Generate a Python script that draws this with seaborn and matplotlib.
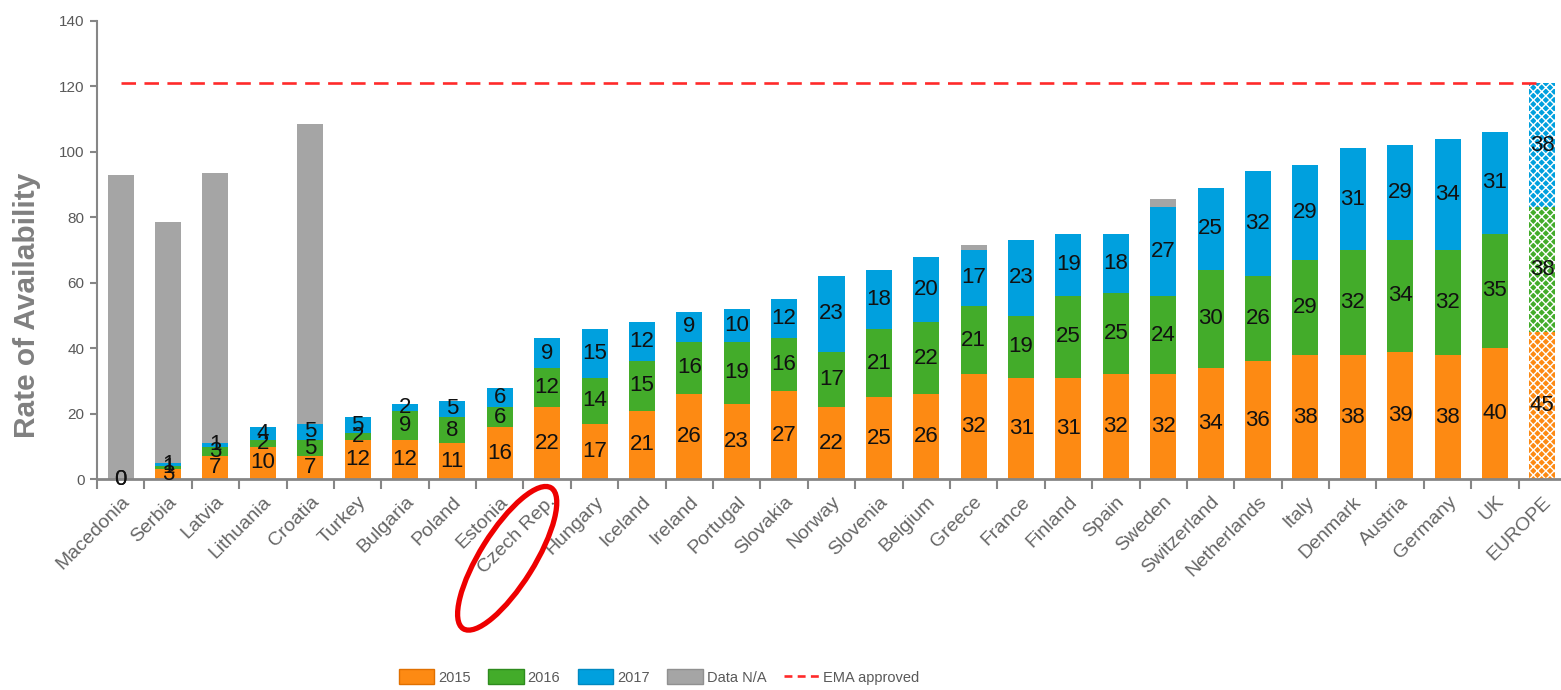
import numpy as np
import pandas as pd
import matplotlib
matplotlib.use("Agg")
import matplotlib.pyplot as plt
import seaborn as sns
from matplotlib.patches import Patch, Ellipse
from matplotlib.lines import Line2D
from matplotlib.transforms import IdentityTransform

# ---------------- data ----------------
countries = ["Macedonia", "Serbia", "Latvia", "Lithuania", "Croatia", "Turkey",
             "Bulgaria", "Poland", "Estonia", "Czech Rep.", "Hungary", "Iceland",
             "Ireland", "Portugal", "Slovakia", "Norway", "Slovenia", "Belgium",
             "Greece", "France", "Finland", "Spain", "Sweden", "Switzerland",
             "Netherlands", "Italy", "Denmark", "Austria", "Germany", "UK", "EUROPE"]
y2015 = [0, 3, 7, 10, 7, 12, 12, 11, 16, 22, 17, 21, 26, 23, 27, 22, 25, 26,
         32, 31, 31, 32, 32, 34, 36, 38, 38, 39, 38, 40, 45]
y2016 = [0, 1, 3, 2, 5, 2, 9, 8, 6, 12, 14, 15, 16, 19, 16, 17, 21, 22,
         21, 19, 25, 25, 24, 30, 26, 29, 32, 34, 32, 35, 38]
y2017 = [np.nan, 1, 1, 4, 5, 5, 2, 5, 6, 9, 15, 12, 9, 10, 12, 23, 18, 20,
         17, 23, 19, 18, 27, 25, 32, 29, 31, 29, 34, 31, 38]
data_na = [93, 73.5, 82.5, 0, 91.5, 0, 0, 0, 0, 0, 0, 0, 0, 0, 0, 0, 0, 0,
           1.5, 0, 0, 0, 2.5, 0, 0, 0, 0, 0, 0, 0, 0]
ema_approved = 121
yticks = [0, 20, 40, 60, 80, 100, 120, 140]
highlight = "Czech Rep."

c2015, c2016, c2017, cna = "#FD8A13", "#43AC2A", "#00A0DE", "#A5A5A5"
ema_color = "#FF2A2A"
txt_gray = "#595959"
axis_gray = "#868686"

df = pd.DataFrame({"country": countries, "y2015": y2015, "y2016": y2016,
                   "y2017": y2017, "na": data_na})
h15 = df["y2015"].fillna(0)
h16 = df["y2016"].fillna(0)
h17 = df["y2017"].fillna(0)
df["cum15"] = h15
df["cum16"] = h15 + h16
df["cum17"] = h15 + h16 + h17
df["cumna"] = df["cum17"] + df["na"]

# ---------------- figure ----------------
sns.set_style("white")
plt.rcParams["font.family"] = ["Liberation Sans", "DejaVu Sans"]
plt.rcParams["hatch.linewidth"] = 1.0

fig = plt.figure(figsize=(15.61, 6.9), dpi=100)
ax = fig.add_axes([97 / 1561, 210.7 / 690, (1566 - 97) / 1561, (669.3 - 210.7) / 690])

layers = [("cumna", cna), ("cum17", c2017), ("cum16", c2016), ("cum15", c2015)]
for col, color in layers:
    sns.barplot(data=df, x="country", y=col, order=countries, color=color,
                saturation=1, width=0.55, ax=ax, linewidth=0, zorder=2)

# hatch the EUROPE bar
ie = countries.index("EUROPE")
for cont in ax.containers:
    p = cont[ie]
    p.set_hatch("xxxx")
    p.set_edgecolor("white")

# data labels
for i in range(len(countries)):
    segs = [(df["y2015"][i], 0.0), (df["y2016"][i], df["cum15"][i]),
            (df["y2017"][i], df["cum16"][i])]
    for v, b in segs:
        if pd.isna(v):
            continue
        ax.text(i, b + v / 2, f"{int(v)}", ha="center", va="center",
                fontsize=16, color="#111111", zorder=4)

# EMA approved line
ax.hlines(ema_approved, 0, len(countries) - 1, colors=ema_color, linewidth=1.9,
          linestyles=(0, (5.5, 3.2)), zorder=3)

# axes styling
ax.set_xlim(-0.5, len(countries) - 0.5)
ax.set_ylim(0, 140)
ax.set_yticks(yticks)
ax.set_yticklabels([str(t) for t in yticks], color=txt_gray, fontsize=11)
ax.tick_params(axis="y", direction="out", length=5, width=1.5, color=axis_gray, pad=4,
               left=True)
ax.set_xticks(range(len(countries)))
ax.set_xticklabels(countries, rotation=45, ha="right", rotation_mode="anchor",
                   color="#666666", fontsize=14)
ax.tick_params(axis="x", length=0, pad=10)
ax.set_xticks(np.arange(-0.5, len(countries) - 0.4, 1), minor=True)
ax.tick_params(axis="x", which="minor", direction="out", length=7, width=1.5,
               color=axis_gray, bottom=True)
for s in ["top", "right"]:
    ax.spines[s].set_visible(False)
ax.spines["left"].set_color(axis_gray)
ax.spines["left"].set_linewidth(1.5)
ax.spines["bottom"].set_color(axis_gray)
ax.spines["bottom"].set_linewidth(2)
ax.set_xlabel("")
ax.set_ylabel("Rate of Availability", fontsize=21.5, fontweight="bold",
              color="#808080", va="center")
ax.yaxis.set_label_coords(-0.0477, 0.38)

# legend
handles = [Patch(facecolor=c2015, edgecolor="#E07000", label="2015"),
           Patch(facecolor=c2016, edgecolor="#2E8B1E", label="2016"),
           Patch(facecolor=c2017, edgecolor="#0088C0", label="2017"),
           Patch(facecolor=cna, edgecolor="#909090", label="Data N/A"),
           Line2D([0], [0], color=ema_color, linewidth=1.9,
                  linestyle=(0, (3, 2)), label="EMA approved")]
leg = fig.legend(handles=handles, loc="center", bbox_to_anchor=(659 / 1561, 13 / 690),
                 ncol=5, frameon=False, handlelength=2.45, handleheight=1.15,
                 handletextpad=0.25, columnspacing=1.2,
                 prop={"size": 10.5})
for t in leg.get_texts():
    t.set_color(txt_gray)

# red ellipse highlight around the Czech Rep. label
fig.canvas.draw()
ih = countries.index(highlight)
bx = ax.transData.transform((ih, 0))[0]
by = ax.transAxes.transform((0, 0))[1]
ell = Ellipse((bx - 40, by - 79), width=166, height=54, angle=58, fill=False,
              edgecolor="#EE0000", linewidth=3.8, transform=IdentityTransform())
fig.add_artist(ell)

fig.savefig("out.png", dpi=100)
